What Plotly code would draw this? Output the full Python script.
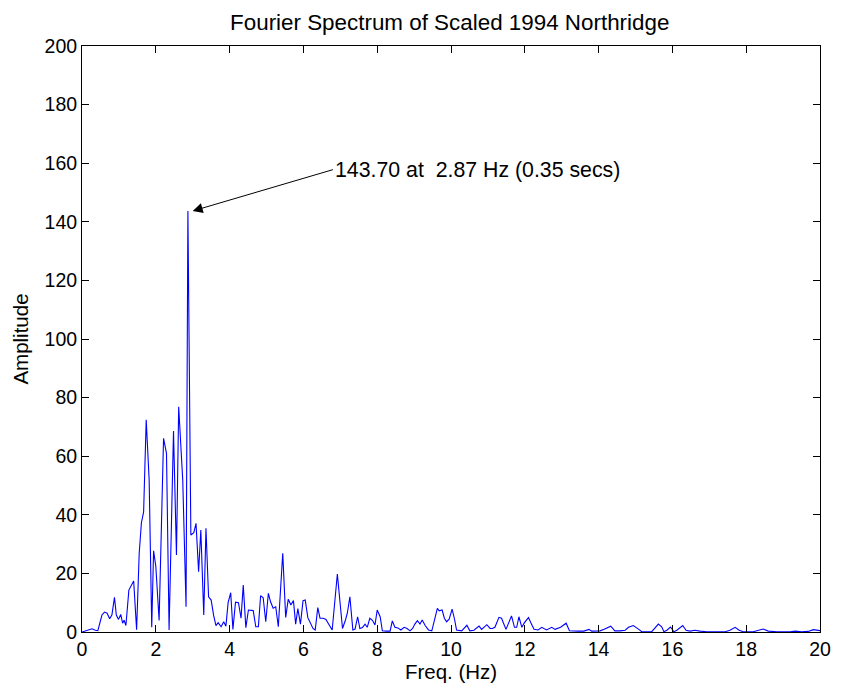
import plotly.graph_objects as go

freq = [0.00, 0.27, 0.36, 0.43, 0.54, 0.61, 0.68, 0.75, 0.81, 0.88, 0.93, 0.99, 1.05, 1.10, 1.14, 1.19,
        1.27, 1.36, 1.40, 1.48, 1.55, 1.61, 1.67, 1.74, 1.82, 1.89, 1.94, 2.00, 2.09, 2.21, 2.29, 2.36,
        2.48, 2.56, 2.62, 2.73, 2.82, 2.87, 2.95, 3.03, 3.09, 3.16, 3.22, 3.30, 3.36, 3.43, 3.50, 3.57,
        3.63, 3.69, 3.77, 3.84, 3.90, 3.96, 4.03, 4.09, 4.16, 4.24, 4.31, 4.37, 4.44, 4.51, 4.58, 4.64,
        4.71, 4.78, 4.84, 4.91, 4.98, 5.05, 5.11, 5.18, 5.25, 5.32, 5.44, 5.52, 5.59, 5.66, 5.73, 5.79,
        5.85, 5.92, 5.99, 6.05, 6.12, 6.19, 6.26, 6.32, 6.39, 6.45, 6.54, 6.61, 6.69, 6.78, 6.92, 6.99,
        7.06, 7.14, 7.19, 7.26, 7.34, 7.40, 7.47, 7.53, 7.60, 7.67, 7.73, 7.80, 7.87, 7.94, 8.00, 8.08,
        8.14, 8.25, 8.35, 8.41, 8.48, 8.56, 8.64, 8.73, 8.81, 8.89, 8.96, 9.02, 9.09, 9.16, 9.22, 9.30,
        9.39, 9.48, 9.63, 9.68, 9.76, 9.82, 9.88, 9.95, 10.03, 10.10, 10.15, 10.29, 10.43, 10.51, 10.62,
        10.76, 10.83, 10.97, 11.06, 11.12, 11.19, 11.30, 11.37, 11.49, 11.64, 11.72, 11.78, 11.84, 11.92,
        11.99, 12.10, 12.17, 12.25, 12.36, 12.46, 12.59, 12.73, 12.82, 12.97, 13.12, 13.21, 13.45, 13.60,
        13.74, 13.81, 14.04, 14.15, 14.33, 14.44, 14.58, 14.72, 14.81, 14.94, 15.08, 15.17, 15.44, 15.62,
        15.71, 15.77, 15.85, 15.95, 16.04, 16.12, 16.28, 16.37, 16.48, 16.61, 16.75, 16.93, 17.30, 17.43,
        17.56, 17.70, 17.81, 17.92, 18.19, 18.33, 18.46, 18.60, 18.83, 19.19, 19.33, 19.50, 19.68, 19.82,
        19.95, 20.14]

amplitude = [0.0, 1.1, 0.6, 0.5, 5.8, 6.8, 6.4, 4.5, 5.8, 11.8, 5.8, 4.3, 6.0, 3.0, 4.0, 2.2,
             14.3, 16.6, 17.4, 0.8, 26.9, 37.3, 41.0, 72.4, 51.9, 1.6, 27.7, 22.5, 3.9, 66.1, 61.0, 0.7,
             68.6, 26.3, 76.9, 51.9, 8.6, 143.7, 33.1, 33.9, 37.1, 20.6, 34.8, 5.8, 35.4, 12.0, 10.9, 5.5,
             2.2, 3.2, 1.8, 3.5, 2.0, 10.0, 13.4, 0.9, 10.2, 10.0, 4.7, 16.0, 1.5, 7.5, 7.4, 7.3,
             1.8, 1.8, 12.4, 11.7, 3.5, 13.2, 10.3, 8.1, 8.6, 1.8, 26.9, 5.0, 11.2, 9.2, 10.7, 2.7,
             8.0, 2.7, 10.7, 10.9, 4.9, 3.2, 1.2, 0.7, 8.3, 4.7, 4.7, 4.3, 2.7, 0.7, 19.8, 10.9,
             1.2, 4.1, 6.4, 12.0, 0.7, 1.0, 5.2, 1.2, 1.5, 2.7, 1.6, 4.7, 4.0, 2.4, 7.5, 5.2,
             0.4, 0.3, 0.3, 3.8, 1.6, 1.4, 0.7, 1.6, 1.2, 0.4, 1.2, 2.7, 3.9, 2.7, 4.1, 2.2,
             0.7, 0.4, 8.1, 7.2, 7.5, 4.7, 3.5, 4.4, 7.8, 4.1, 0.7, 0.4, 2.3, 0.4, 0.6,
             2.0, 0.9, 2.5, 1.2, 1.2, 1.6, 5.0, 4.7, 0.9, 5.5, 1.6, 1.6, 5.2, 1.6,
             3.2, 4.9, 3.0, 0.9, 0.7, 1.6, 0.7, 1.6, 0.9, 1.6, 3.0, 0.4, 0.3, 0.3,
             0.9, 0.3, 0.4, 0.9, 2.0, 0.4, 0.4, 0.6, 1.6, 2.2, 1.0, 0.1, 0.1, 2.7,
             1.8, 0.1, 0.6, 1.7, 0.1, 0.6, 2.2, 0.6, 0.3, 0.6, 0.3, 0.1, 0.1, 0.1,
             0.6, 1.6, 0.6, 0.1, 0.1, 0.6, 1.0, 0.3, 0.1, 0.1, 0.3, 0.1, 0.2, 0.8,
             0.6, 0.2]

x_ticks = [0, 2, 4, 6, 8, 10, 12, 14, 16, 18, 20]
y_ticks = [0, 20, 40, 60, 80, 100, 120, 140, 160, 180, 200]

peak_amp = 143.70
peak_freq = 2.87
peak_period = 0.35
annot_text = f"{peak_amp:.2f} at \u00a0{peak_freq:.2f} Hz ({peak_period:.2f} secs)"

font = "Liberation Sans, Arial, Helvetica, sans-serif"

fig = go.Figure()
fig.add_trace(go.Scatter(x=freq, y=amplitude, mode="lines",
                         line=dict(color="#0000ff", width=1.1), showlegend=False,
                         cliponaxis=True))

fig.add_annotation(x=3.0, y=peak_amp, xref="x", yref="y",
                   ax=6.80, ay=157.8, axref="x", ayref="y",
                   text=annot_text, xanchor="left", yanchor="middle",
                   showarrow=True, arrowhead=2, arrowsize=2.0, arrowwidth=1,
                   arrowcolor="black", standoff=0, startstandoff=0,
                   font=dict(family=font, size=21.3, color="black"))

axis_common = dict(showgrid=False, zeroline=False, showline=True, linecolor="black",
                   linewidth=1, mirror="ticks", ticks="inside", ticklen=7,
                   tickcolor="black", tickwidth=1,
                   tickfont=dict(family=font, size=19.5, color="black"))

fig.update_xaxes(range=[0, 20], tickvals=x_ticks, ticktext=[str(v) for v in x_ticks],
                 title=dict(text="Freq. (Hz)", font=dict(family=font, size=20.5, color="black"),
                            standoff=0),
                 **axis_common)
fig.update_yaxes(range=[0, 200], tickvals=y_ticks, ticktext=[str(v) for v in y_ticks],
                 title=dict(text="Amplitude", font=dict(family=font, size=20.5, color="black"),
                            standoff=10),
                 **axis_common)

fig.update_layout(
    width=843, height=691,
    margin=dict(l=74, r=31, t=38, b=67),
    plot_bgcolor="white", paper_bgcolor="white",
    title=dict(text="Fourier Spectrum of Scaled 1994 Northridge", x=0.524, xanchor="center",
               y=0.98, yanchor="middle",
               font=dict(family=font, size=22.4, color="black")),
)

fig.write_html("out.html")
